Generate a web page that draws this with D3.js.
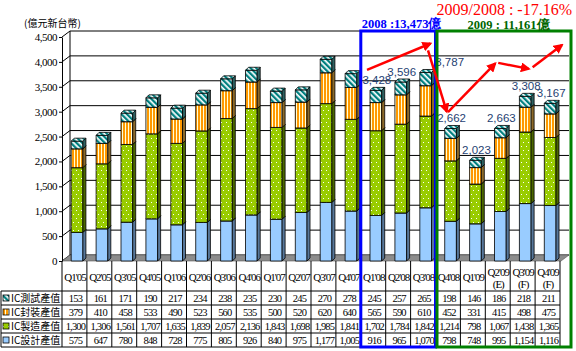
<!DOCTYPE html>
<html>
<head>
<meta charset="utf-8">
<script src="https://cdn.jsdelivr.net/npm/d3@7"></script>
<style>
  body { margin: 0; background: #fff; }
  svg { display: block; }
  text { font-family: "Liberation Serif", "Times New Roman", serif; }
  .cjk { font-family: "Noto Sans CJK TC", sans-serif; }
</style>
</head>
<body>
<div id="chart"></div>
<script>
// quarters (a second word is printed on a second line of the table header)
const quarters = ["Q1'05", "Q2'05", "Q3'05", "Q4'05", "Q1'06", "Q2'06", "Q3'06", "Q4'06",
  "Q1'07", "Q2'07", "Q3'07", "Q4'07", "Q1'08", "Q2'08", "Q3'08", "Q4'08",
  "Q1'09", "Q2'09 (E)", "Q3'09 (F)", "Q4'09 (F)"];

// values in 億元新台幣
const testing = [153, 161, 171, 190, 217, 234, 238, 235, 230, 245, 270, 278, 245, 257, 265, 198, 146, 186, 218, 211];
const packaging = [379, 410, 458, 533, 490, 523, 560, 535, 500, 520, 620, 640, 565, 590, 610, 452, 331, 415, 498, 475];
const manufacturing = [1300, 1306, 1561, 1707, 1635, 1839, 2057, 2136, 1843, 1698, 1985, 1841, 1702, 1784, 1842, 1214, 798, 1067, 1438, 1365];
const design = [575, 647, 780, 848, 728, 775, 805, 926, 840, 975, 1177, 1005, 916, 965, 1070, 798, 748, 995, 1154, 1116];

const seriesNames = ["IC測試產值", "IC封裝產值", "IC製造產值", "IC設計產值"];
const yTicks = [0, 500, 1000, 1500, 2000, 2500, 3000, 3500, 4000, 4500];

// quarters of 2008 and 2009
const year2008 = ["Q1'08", "Q2'08", "Q3'08", "Q4'08"];
const year2009 = ["Q1'09", "Q2'09 (E)", "Q3'09 (F)", "Q4'09 (F)"];

// hand drawn trend arrows: [quarter index, value] pairs
const trendArrows = [
  [[11.75, 3840], [14.3, 4370]],
  [[14.2, 4230], [14.95, 3000]],
  [[15.0, 2990], [16.9, 3970]],
  [[17.02, 3980], [18.25, 3860]],
  [[18.4, 3890], [19.58, 4340]],
];

const width = 576, height = 351;
const fmt = d3.format(",");

const svg = d3.select("#chart").append("svg")
  .attr("width", width)
  .attr("height", height);

const x = d3.scaleBand().domain(quarters).range([62, 560]);
const y = d3.scaleLinear().domain([0, 4500]).range([261, 37]);
const bw = x.bandwidth();
const wall = { dx: 8, dy: 6 };
const depth = 3;
const xRight = 569;

// ---------- patterns ----------
const defs = svg.append("defs");

const dots = defs.append("pattern").attr("id", "dots")
  .attr("patternUnits", "userSpaceOnUse").attr("width", 5).attr("height", 8);
dots.append("rect").attr("width", 5).attr("height", 8).attr("fill", "#99cc00");
dots.append("rect").attr("x", 1).attr("y", 2).attr("width", 1).attr("height", 1).attr("fill", "#fff");
dots.append("rect").attr("x", 3).attr("y", 6).attr("width", 1).attr("height", 1).attr("fill", "#fff");

const stripes = defs.append("pattern").attr("id", "stripes")
  .attr("patternUnits", "userSpaceOnUse").attr("width", 3).attr("height", 3);
stripes.append("rect").attr("width", 3).attr("height", 3).attr("fill", "#ff9900");
stripes.append("rect").attr("x", 2).attr("width", 1).attr("height", 3).attr("fill", "#ffffd8");

const diag = defs.append("pattern").attr("id", "diag")
  .attr("patternUnits", "userSpaceOnUse").attr("width", 4).attr("height", 4)
  .attr("patternTransform", "rotate(45)");
diag.append("rect").attr("width", 4).attr("height", 4).attr("fill", "#008080");
diag.append("rect").attr("width", 4).attr("height", 1.7).attr("fill", "#fff");

const marker = defs.append("marker").attr("id", "arrow")
  .attr("viewBox", "0 0 10 10").attr("refX", 8).attr("refY", 5)
  .attr("markerWidth", 4).attr("markerHeight", 4)
  .attr("markerUnits", "strokeWidth").attr("orient", "auto");
marker.append("path").attr("d", "M0,0 L10,5 L0,10 z").attr("fill", "#ff0000");

// series styles, bottom of the stack first
const styles = {
  design: { front: "#99ccff", side: "#57779a", top: "#bcdcff" },
  manufacturing: { front: "url(#dots)", side: "#4c6600", top: "#b8dc4a" },
  packaging: { front: "url(#stripes)", side: "#8c6a2a", top: "#ffc266" },
  testing: { front: "url(#diag)", side: "#2e6262", top: "url(#diag)" },
};

// ---------- walls ----------
const grid = svg.append("g");
yTicks.forEach((v) => {
  grid.append("line")
    .attr("x1", 62 + wall.dx).attr("x2", xRight)
    .attr("y1", y(v) - wall.dy).attr("y2", y(v) - wall.dy)
    .attr("stroke", "#000").attr("stroke-width", 1);
  grid.append("line")
    .attr("x1", 62).attr("x2", 62 + wall.dx)
    .attr("y1", y(v)).attr("y2", y(v) - wall.dy)
    .attr("stroke", "#000").attr("stroke-width", 1);
});
grid.append("line")
  .attr("x1", 62 + wall.dx).attr("x2", 62 + wall.dx)
  .attr("y1", y(4500) - wall.dy).attr("y2", y(0) - wall.dy)
  .attr("stroke", "#000");

// floor
svg.append("path")
  .attr("d", `M62,${y(0)} L${62 + wall.dx},${y(0) - wall.dy} L${xRight},${y(0) - wall.dy} L${xRight - wall.dx},${y(0)} Z`)
  .attr("fill", "#8c8c8c").attr("stroke", "#555").attr("stroke-width", 0.6);

// y axis
const yAxis = svg.append("g")
  .attr("transform", "translate(62,0)")
  .call(d3.axisLeft(y).tickValues(yTicks).tickFormat(fmt).tickSize(3).tickSizeOuter(0));
yAxis.select(".domain").attr("stroke", "#000");
yAxis.selectAll("text")
  .attr("x", -5)
  .style("font-family", "'Liberation Serif', serif")
  .style("font-size", "11px")
  .style("letter-spacing", "-0.5px")
  .attr("fill", "#000");

svg.append("text").attr("class", "cjk")
  .attr("x", 24).attr("y", 27)
  .style("font-size", "10px")
  .text("(億元新台幣)");

// ---------- bars ----------
const rows = quarters.map((q, i) => ({
  quarter: q,
  design: design[i],
  manufacturing: manufacturing[i],
  packaging: packaging[i],
  testing: testing[i],
}));
const keys = ["design", "manufacturing", "packaging", "testing"];
const stacked = d3.stack().keys(keys)(rows);

const barLeft = (q) => x(q) + bw * 0.37;
const barW = bw * 0.47;

const bars = svg.append("g").attr("stroke", "#000").attr("stroke-width", 0.8).attr("stroke-linejoin", "round");
rows.forEach((row, i) => {
  keys.forEach((k, j) => {
    const seg = stacked[j][i];
    const x0 = barLeft(row.quarter), x1 = x0 + barW;
    const yb = y(seg[0]), yt = y(seg[1]);
    const st = styles[k];
    bars.append("rect")
      .attr("x", x0).attr("y", yt).attr("width", barW).attr("height", yb - yt)
      .attr("fill", st.front);
    bars.append("path")
      .attr("d", `M${x1},${yb} L${x1 + depth},${yb - depth} L${x1 + depth},${yt - depth} L${x1},${yt} Z`)
      .attr("fill", st.side);
    bars.append("path")
      .attr("d", `M${x0},${yt} L${x0 + depth},${yt - depth} L${x1 + depth},${yt - depth} L${x1},${yt} Z`)
      .attr("fill", st.top);
  });
});

// total labels for 2008 and 2009
const totals = rows.map((r) => r.design + r.manufacturing + r.packaging + r.testing);
const labelled = year2008.concat(year2009);
svg.append("g").selectAll("text")
  .data(labelled)
  .join("text")
  .attr("x", (q) => barLeft(q) + barW / 2 + 1 + (q === "Q3'08" ? 23 : 0))
  .attr("y", (q) => y(totals[quarters.indexOf(q)]) - 6)
  .attr("text-anchor", "middle")
  .style("font-family", "'Liberation Sans', Arial, sans-serif")
  .style("font-size", "11.5px")
  .attr("fill", "#1f3f73")
  .text((q) => fmt(totals[quarters.indexOf(q)]));

// ---------- data table ----------
const tableTop = y(0);
const headerBottom = 291;
const rowH = 14;
const tableBottom = headerBottom + rowH * seriesNames.length;
const tableRows = [testing, packaging, manufacturing, design];
const iconFill = [styles.testing.front, styles.packaging.front, styles.manufacturing.front, styles.design.front];

const table = svg.append("g");
d3.range(seriesNames.length + 1).forEach((k) => {
  table.append("line")
    .attr("x1", 1).attr("x2", 560)
    .attr("y1", headerBottom + k * rowH).attr("y2", headerBottom + k * rowH)
    .attr("stroke", "#000");
});
table.append("line").attr("x1", 1).attr("x2", 1)
  .attr("y1", headerBottom).attr("y2", tableBottom).attr("stroke", "#000");
quarters.concat([null]).forEach((q) => {
  const xx = q ? x(q) : x.range()[1];
  table.append("line").attr("x1", xx).attr("x2", xx)
    .attr("y1", tableTop).attr("y2", tableBottom).attr("stroke", "#000");
});

// header labels
quarters.forEach((q) => {
  const parts = q.split(" ");
  const t = table.append("text")
    .attr("text-anchor", "middle")
    .style("font-size", "11px")
    .style("letter-spacing", "-1px");
  parts.forEach((p, n) => {
    t.append("tspan")
      .attr("x", x(q) + bw / 2 + 0.5)
      .attr("y", parts.length > 1 ? 276 + n * 12 : 281)
      .text(p);
  });
});

// legend cells and values
seriesNames.forEach((name, r) => {
  const top = headerBottom + r * rowH;
  table.append("rect")
    .attr("x", 3).attr("y", top + 4).attr("width", 6).attr("height", 6)
    .attr("fill", iconFill[r]).attr("stroke", "#000").attr("stroke-width", 0.8);
  table.append("text").attr("class", "cjk")
    .attr("x", 11).attr("y", top + 11)
    .style("font-size", "10px")
    .text(name);
  tableRows[r].forEach((v, i) => {
    table.append("text")
      .attr("x", x(quarters[i]) + bw / 2 + 1)
      .attr("y", top + 11)
      .attr("text-anchor", "middle")
      .style("font-size", "10.5px")
      .style("letter-spacing", "-0.8px")
      .text(fmt(v));
  });
});

// ---------- year boxes ----------
const boxTop = y(4500) - wall.dy;
const boxBottom = tableBottom;
svg.append("rect")
  .attr("x", x("Q1'08")).attr("y", boxTop)
  .attr("width", x("Q4'08") - x("Q1'08")).attr("height", boxBottom - boxTop)
  .attr("fill", "none").attr("stroke", "#0000ff").attr("stroke-width", 3);
svg.append("rect")
  .attr("x", x("Q4'08") + 1.5).attr("y", boxTop)
  .attr("width", x.range()[1] + 11 - x("Q4'08") - 1.5).attr("height", boxBottom - boxTop)
  .attr("fill", "none").attr("stroke", "#008000").attr("stroke-width", 3);

const sum = (list) => d3.sum(list, (q) => totals[quarters.indexOf(q)]);
const sum2008 = sum(year2008), sum2009 = sum(year2009);

svg.append("text")
  .attr("x", x("Q1'08") + 1).attr("y", 28)
  .style("font-size", "12.5px").style("font-weight", "bold")
  .attr("fill", "#0000ff")
  .text("2008 :" + fmt(sum2008) + "億");
svg.append("text")
  .attr("x", x("Q4'08") + 32).attr("y", 29)
  .style("font-size", "12.5px").style("font-weight", "bold")
  .attr("fill", "#006600")
  .text("2009 : " + fmt(sum2009) + "億");
svg.append("text")
  .attr("x", 572).attr("y", 15)
  .attr("text-anchor", "end")
  .style("font-size", "16px")
  .attr("fill", "#ff0000")
  .text("2009/2008 : " + d3.format(".2%")(sum2009 / sum2008 - 1).replace("\u2212", "-"));

// ---------- trend arrows ----------
const qx = (q) => x(quarters[0]) + bw * (q + 0.5);
svg.append("g").selectAll("path")
  .data(trendArrows)
  .join("path")
  .attr("d", (a) => d3.line().x((p) => qx(p[0])).y((p) => y(p[1]))(a))
  .attr("fill", "none")
  .attr("stroke", "#ff0000")
  .attr("stroke-width", 2.5)
  .attr("marker-end", "url(#arrow)");
</script>
</body>
</html>
